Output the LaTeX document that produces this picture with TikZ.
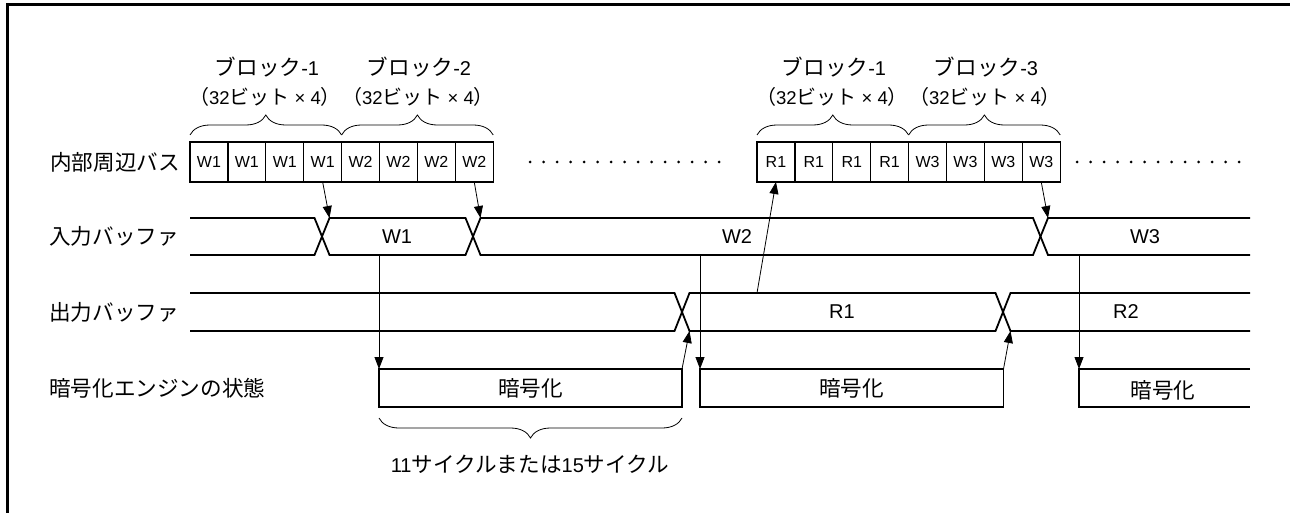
\documentclass[tikz,border=0pt]{standalone}
\usepackage{fontspec}
\setmainfont{Liberation Sans}
\newfontfamily\jpf[Scale=1.08]{Noto Sans CJK JP}
\newcommand{\jp}[1]{{\jpf #1}}
\usetikzlibrary{arrows.meta,decorations.pathreplacing}

\begin{document}
\begin{tikzpicture}[x=1pt,y=-1pt,
    lbl/.style={anchor=west,inner sep=0,font=\fontsize{20}{24}\selectfont},
    txt/.style={inner sep=0,font=\fontsize{20}{24}\selectfont},
    sub/.style={inner sep=0,font=\fontsize{18.5}{22}\selectfont},
    cell/.style={draw,line width=1.3pt,minimum width=37.9pt,minimum height=40pt,
      inner sep=0,outer sep=0,font=\fontsize{16}{18}\selectfont},
    sig/.style={line width=1.8pt,line join=miter},
    enc/.style={draw,line width=1.8pt,minimum height=38pt,inner sep=0,outer sep=0,
      font=\fontsize{20}{24}\selectfont},
    arr/.style={-{Triangle[length=12pt,width=9pt]},line width=0.8pt},
    brc/.style={decorate,decoration={brace,amplitude=20pt},line width=0.8pt}]
            \useasboundingbox (0,0) rectangle (1290,513);
            \draw[line width=3pt] (7,513) -- (7,5) -- (1290,5);

            \draw (50,162) node[lbl] (L1) {\jp{内部周辺バス}};
            \draw (49,236.5) node[lbl] (L2) {\jp{入力バッファ}};
            \draw (49,312) node[lbl] (L3) {\jp{出力バッファ}};
            \draw (49,388) node[lbl] (L4) {\jp{暗号化エンジンの状態}};

            \foreach \t [count=\i] in {W1,W1,W1,W1,W2,W2,W2,W2}
              \draw ({190+(\i-0.5)*37.9},162) node[cell] (a\i) {\t};
            \foreach \t [count=\i] in {R1,R1,R1,R1,W3,W3,W3,W3}
              \draw ({757+(\i-0.5)*37.9},162) node[cell] (b\i) {\t};
            \foreach \k in {0,...,14} \fill (530+13.5*\k,162) circle (1.5pt);
            \foreach \k in {0,...,12} \fill (1077+13.5*\k,162) circle (1.5pt);

            \draw[brc] ([yshift=7pt]a1.north west) -- ([yshift=7pt]a4.north east);
            \draw[brc] ([yshift=7pt]a5.north west) -- ([yshift=7pt]a8.north east);
            \draw[brc] ([yshift=7pt]b1.north west) -- ([yshift=7pt]b4.north east);
            \draw[brc] ([yshift=7pt]b5.north west) -- ([yshift=7pt]b8.north east);
            \draw (267,67) node[txt] (K1) {\jp{ブロック}-1};
            \draw (265,97) node[sub] (S1) {\jp{（}32\jp{ビット} × 4\jp{）}};
            \draw (419,67) node[txt] (K2) {\jp{ブロック}-2};
            \draw (418,97) node[sub] (S2) {\jp{（}32\jp{ビット} × 4\jp{）}};
            \draw (834,67) node[txt] (K3) {\jp{ブロック}-1};
            \draw (832,97) node[sub] (S3) {\jp{（}32\jp{ビット} × 4\jp{）}};
            \draw (986,67) node[txt] (K4) {\jp{ブロック}-3};
            \draw (985,97) node[sub] (S4) {\jp{（}32\jp{ビット} × 4\jp{）}};

            \draw[sig] (190,218) -- (314.5,218) -- (329.5,255) -- (465.5,255) -- (480.5,218)
              -- (1033,218) -- (1048,255) -- (1250,255);
            \draw[sig] (190,255) -- (314.5,255) -- (329.5,218) -- (465.5,218) -- (480.5,255)
              -- (1033,255) -- (1048,218) -- (1250,218);
            \draw (397,236.5) node[txt] (W1) {W1};
            \draw (737,236.5) node[txt] (W2) {W2};
            \draw (1145,236.5) node[txt] (W3) {W3};

            \draw[sig] (190,293) -- (674.5,293) -- (689.5,331) -- (995.5,331) -- (1010.5,293)
              -- (1250,293);
            \draw[sig] (190,331) -- (674.5,331) -- (689.5,293) -- (995.5,293) -- (1010.5,331)
              -- (1250,331);
            \draw (842,312) node[txt] (R1) {R1};
            \draw (1126,312) node[txt] (R2) {R2};

            \draw (530.5,388) node[enc,minimum width=303pt] (E1) {\jp{暗号化}};
            \draw (851.75,388) node[enc,minimum width=303.5pt] (E2) {\jp{暗号化}};
            \draw[sig] (1250,369) -- (1079,369) -- (1079,407) -- (1250,407);
            \draw (1163,390) node[txt] (E3) {\jp{暗号化}};

            \draw[brc] ([yshift=-11pt]E1.south east) -- ([yshift=-11pt]E1.south west);
            \draw (530,464) node[txt] (C) {11\jp{サイクルまたは}15\jp{サイクル}};

            \coordinate (x1) at (329.5,218);
            \coordinate (x2) at (480.5,218);
            \coordinate (x3) at (1048,218);
            \coordinate (o1) at (757,293);
            \coordinate (i1) at (379,255);
            \coordinate (i2) at (700,255);
            \coordinate (i3) at (1079,255);
            \coordinate (e3) at (1079,369);
            \coordinate (y1) at (689.5,331);
            \coordinate (y2) at (1010.5,331);

            \draw[arr] (a4.south) -- (x1);
            \draw[arr] (a8.south) -- (x2);
            \draw[arr] (b8.south) -- (x3);
            \draw[arr] (o1) -- (b1.south);
            \draw[arr] (i1) -- (E1.north west);
            \draw[arr] (i2) -- (E2.north west);
            \draw[arr] (i3) -- (e3);
            \draw[arr] (E1.north east) -- (y1);
            \draw[arr] (E2.north east) -- (y2);
\end{tikzpicture}
\end{document}
